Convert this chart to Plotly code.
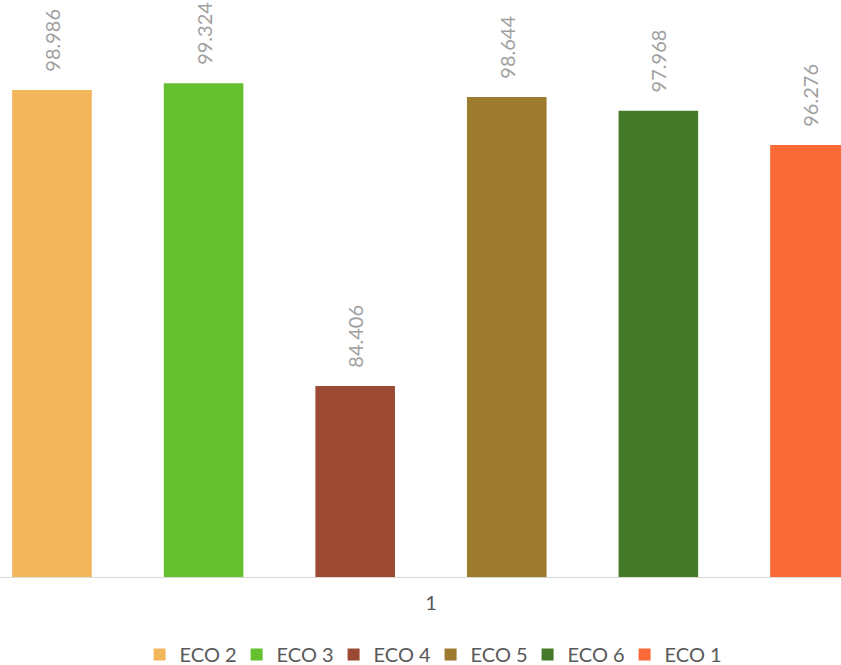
import plotly.graph_objects as go

categories = ["1"]
series_names = ["ECO 2", "ECO 3", "ECO 4", "ECO 5", "ECO 6", "ECO 1"]
series_values = [98.986, 99.324, 84.406, 98.644, 97.968, 96.276]
colors = ["#F4B65A", "#66BF2E", "#9C4A33", "#9C7A2E", "#467A2B", "#F96A36"]

FONT = "Lato, Open Sans, sans-serif"
PAD = "\u00a0" * 3

fig = go.Figure()
for name, val, col in zip(series_names, series_values, colors):
    fig.add_trace(go.Bar(
        x=categories, y=[val], name=name,
        marker=dict(color=col, line=dict(width=0)),
        text=[PAD + f"{val:.3f}"], textposition="outside", textangle=-90,
        textfont=dict(family=FONT, size=20, color="#A0A0A0"),
        cliponaxis=False,
    ))

fig.update_layout(
    width=841, height=665,
    margin=dict(l=0, r=0, t=0, b=88, autoexpand=False),
    paper_bgcolor="white", plot_bgcolor="white",
    barmode="group", bargap=0.0, bargroupgap=0.475,
    showlegend=True,
    legend=dict(orientation="h", x=0.512, xanchor="center", y=-0.1005, yanchor="top",
                entrywidth=52, entrywidthmode="pixels",
                font=dict(family=FONT, size=20, color="#595959"),
                traceorder="normal"),
    font=dict(family=FONT),
)
fig.update_xaxes(range=[-0.4738, 0.4508], showline=True, linecolor="#D9D9D9", linewidth=1,
                 showgrid=False, ticks="", tickfont=dict(size=20, color="#595959"),
                 ticklabelstandoff=8)
fig.update_yaxes(range=[75, 75 + 577 / 20.3], visible=False, showgrid=False, zeroline=False)

fig.write_html(
    "out.html",
    config={"displayModeBar": False},
    post_script="document.body.style.margin='0';document.body.style.overflow='hidden';",
)
